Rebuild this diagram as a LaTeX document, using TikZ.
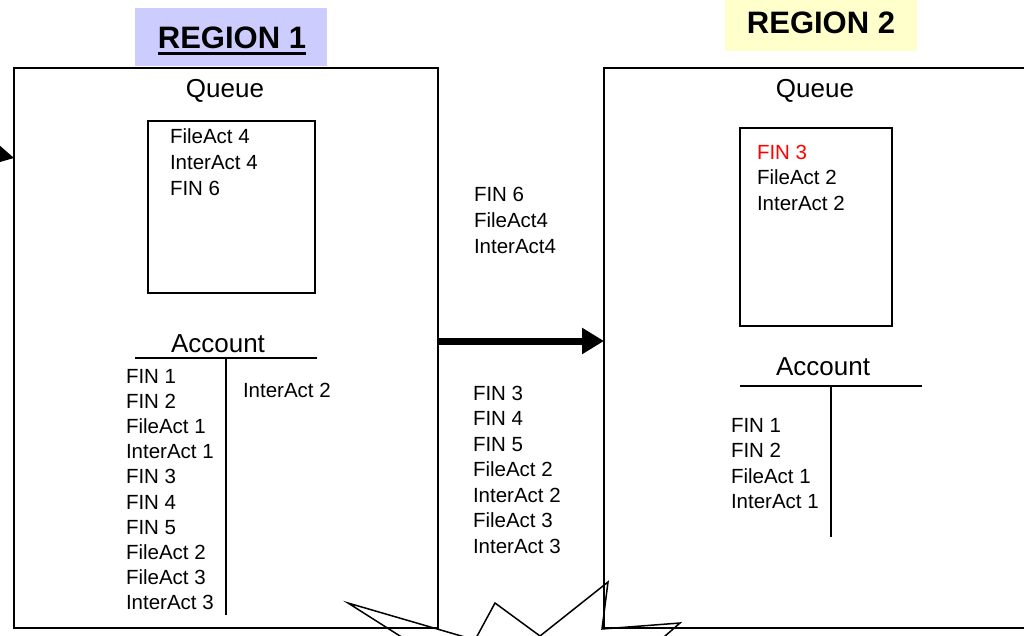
\documentclass[tikz,border=0pt]{standalone}
\usepackage{fontspec}
\setmainfont{Liberation Sans}
\usetikzlibrary{arrows.meta,calc}
\definecolor{lav}{RGB}{204,204,255}
\definecolor{lemon}{RGB}{255,255,204}
\begin{document}
\begin{tikzpicture}[x=1pt,y=-1pt,
  every node/.style={inner sep=0pt, outer sep=0pt},
  txt/.style={anchor=base west, font=\fontsize{20.5}{24}\selectfont},
  head/.style={anchor=base, font=\fontsize{26}{30}\selectfont},
  regtitle/.style={anchor=base, font=\fontsize{31}{36}\selectfont\bfseries},
  regionbox/.style={draw=black, line width=2pt, rectangle},
  qbox/.style={draw=black, line width=1.8pt, rectangle},
  tline/.style={line width=1.6pt},
  bigarrow/.style={line width=7pt, -{Triangle[length=22pt,width=25pt]}},
  thinarrow/.style={line width=1.5pt, -{Triangle[length=16pt,width=17pt]}},
  star/.style={line width=1.5pt, line join=miter},
]
\useasboundingbox (0,0) rectangle (1024,636);

% region titles
\fill[lav] (135,8) rectangle (327,66);
\node[regtitle] (r1) at (232,49) {REGION 1};
\draw[line width=3pt] ([yshift=-4.5pt]r1.base west) -- ([yshift=-4.5pt]r1.base east);
\fill[lemon] (725,0) rectangle (917,51);
\node[regtitle] (r2) at (821,34) {REGION 2};

% region boxes
\node[regionbox, minimum width=424pt, minimum height=560pt] (L) at (226,348) {};
\node[regionbox, minimum width=436pt, minimum height=560pt] (R) at (822,348) {};

% queues
\node[head] (qL) at (225,98) {Queue};
\node[head] (qR) at (815,98) {Queue};
\node[qbox, minimum width=167pt, minimum height=172pt] (QL) at (231.5,207) {};
\node[qbox, minimum width=152pt, minimum height=198pt] (QR) at (816,227) {};

\node[txt] (ql1) at (170,144) {FileAct 4};
\node[txt] (ql2) at (170,170) {InterAct 4};
\node[txt] (ql3) at (170,196) {FIN 6};

\node[txt, text=red] (qr1) at (757,160) {FIN 3};
\node[txt] (qr2) at (757,185) {FileAct 2};
\node[txt] (qr3) at (757,211) {InterAct 2};

% left account
\node[head] (accL) at (218,352) {Account};
\draw[tline] (135,358) -- (317,358);
\draw[tline] (226,358) -- (226,615);
\foreach \t [count=\i] in {FIN 1,FIN 2,FileAct 1,InterAct 1,FIN 3,FIN 4,FIN 5,FileAct 2,FileAct 3,InterAct 3}
  \node[txt] (al\i) at (126,{383+25.22*(\i-1)}) {\t};
\node[txt] (alr) at (243,397) {InterAct 2};

% right account
\node[head] (accR) at (823,375) {Account};
\draw[tline] (740,386) -- (922,386);
\draw[tline] (831,386) -- (831,537);
\foreach \t [count=\i] in {FIN 1,FIN 2,FileAct 1,InterAct 1}
  \node[txt] (ar\i) at (731,{432+25.6*(\i-1)}) {\t};

% middle texts
\foreach \t [count=\i] in {FIN 6,FileAct4,InterAct4}
  \node[txt] (mu\i) at (474,{202+25.5*(\i-1)}) {\t};
\foreach \t [count=\i] in {FIN 3,FIN 4,FIN 5,FileAct 2,InterAct 2,FileAct 3,InterAct 3}
  \node[txt] (ml\i) at (473,{400+25.5*(\i-1)}) {\t};

% arrows
\coordinate (ay) at (0,341);
\draw[bigarrow] (L.east |- ay) -- (R.west |- ay);
\coordinate (src) at (-40,146);
\coordinate (tipy) at (0,158);
\draw[thinarrow] (src) -- (L.west |- tipy);

% starburst
\draw[star] (422,650) -- (348,603) -- (475,640) -- (495,603) -- (540,636) -- (608,582) -- (602,629) -- (680,623) -- (649,650);
\end{tikzpicture}
\end{document}
